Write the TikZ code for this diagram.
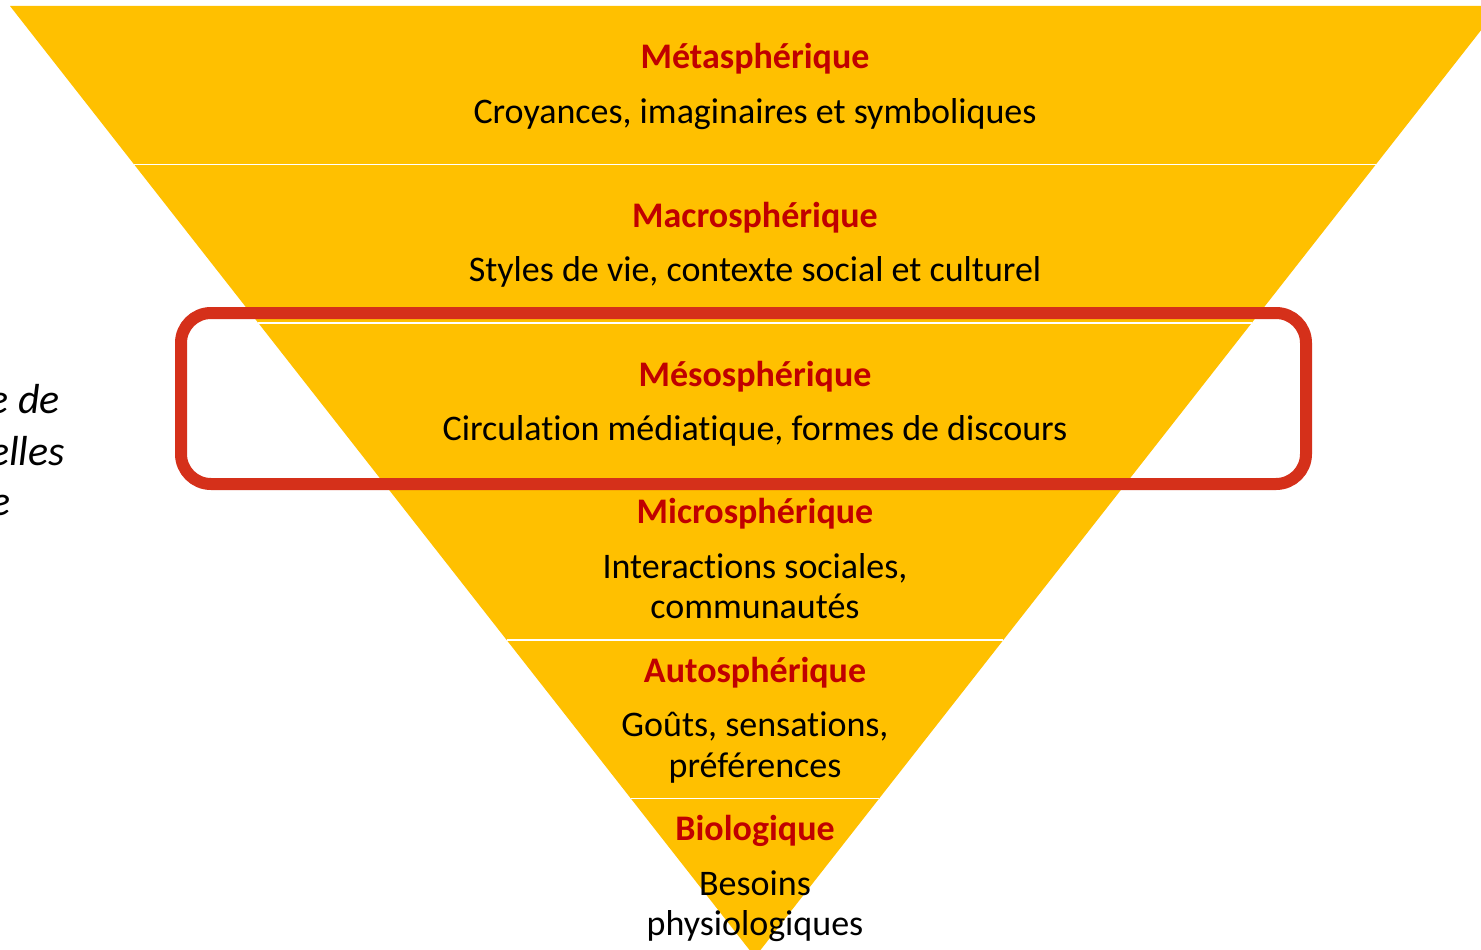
\documentclass[tikz,border=0pt]{standalone}
\usepackage{fontspec}
\setmainfont{Carlito}[Ligatures=NoCommon]
\usetikzlibrary{calc}
\definecolor{jaune}{RGB}{255,192,0}
\definecolor{rougetitre}{RGB}{192,0,0}
\definecolor{rougecadre}{RGB}{213,48,26}
\tikzset{
  titre/.style={anchor=base,inner sep=0pt,text=rougetitre,
    font=\fontsize{36}{43}\selectfont\bfseries},
  texte/.style={anchor=base,inner sep=0pt,
    font=\fontsize{36}{43}\selectfont},
  marge/.style={anchor=base east,inner sep=0pt,
    font=\fontsize{42}{50}\selectfont\itshape},
  separation/.style={white,line width=1.6pt},
  cadre/.style={rougecadre,line width=12pt,rounded corners=30pt}
}
\begin{document}
\begin{tikzpicture}[x=1pt,y=-1pt]
\clip (0,0) rectangle (1481,950);
\fill[white] (0,0) rectangle (1481,950);
% pyramide
\coordinate (hautG) at (10,6);
\coordinate (hautD) at (1500,6);
\coordinate (pointe) at (755,957);
\fill[jaune] (hautG) -- (hautD) -- (pointe) -- cycle;
\foreach \k in {1,...,5}
{
    \draw[separation] ($(hautG)!\k/6!(pointe)$) -- ($(hautD)!\k/6!(pointe)$);
}
% titres
\foreach \k/\nom/\y in {1/Métasphérique/69,2/Macrosphérique/227.5,3/Mésosphérique/386,
    4/Microsphérique/523.5,5/Autosphérique/682,6/Biologique/840.5}
{
    \node[titre] (titre\k) at (755,\y) {\nom};
}
\node[texte] (texte1) at (755,123) {Croyances, imaginaires et symboliques};
\node[texte] (texte2) at (755,281.5) {Styles de vie, contexte social et culturel};
\node[texte] (texte3) at (755,440) {Circulation médiatique, formes de discours};
\node[texte] (texte4a) at (755,578) {Interactions sociales,};
\node[texte] (texte4b) at (755,618.5) {communautés};
\node[texte] (texte5a) at (755,736.5) {Goûts, sensations,};
\node[texte] (texte5b) at (755,777) {préférences};
\node[texte] (texte6a) at (755,895) {Besoins};
\node[texte] (texte6b) at (755,935.5) {physiologiques};
% cadre du niveau méso
\draw[cadre] (181,313) rectangle (1306,484);
% texte coupé à gauche
\node[marge] (marge1) at (60,413) {e de};
\node[marge] (marge2) at (65,465) {elles};
\node[marge] (marge3) at (11,515) {e};
\end{tikzpicture}
\end{document}
